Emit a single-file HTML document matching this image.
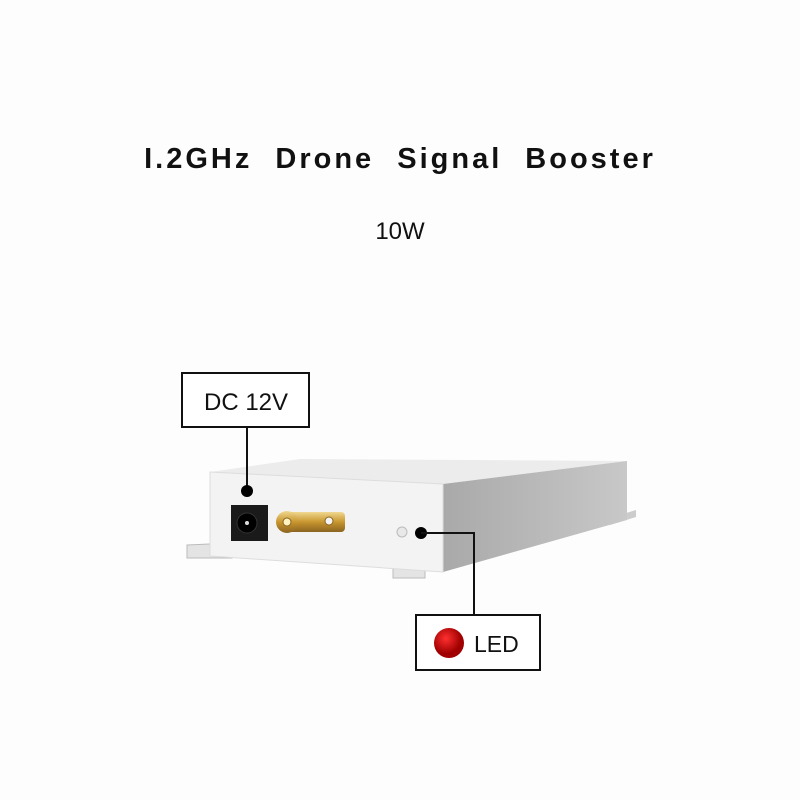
<!DOCTYPE html>
<html><head><style>
body{margin:0;width:800px;height:800px;background:#fdfdfd;overflow:hidden;position:relative;font-family:"Liberation Sans",sans-serif}
.t{position:absolute;left:0;width:800px;text-align:center}
</style></head><body>
<div class="t" style="top:143px;font-size:29px;font-weight:bold;letter-spacing:3px;word-spacing:12px;color:#111">I.2GHz Drone Signal Booster</div>
<div class="t" style="top:218px;font-size:24px;color:#111">10W</div>
<svg width="800" height="800" style="position:absolute;left:0;top:0">
<defs>
<linearGradient id="side" x1="0" x2="1"><stop offset="0" stop-color="#a9a9a9"/><stop offset="1" stop-color="#c8c8c8"/></linearGradient>
<radialGradient id="red" cx="0.4" cy="0.35"><stop offset="0" stop-color="#ff3030"/><stop offset="1" stop-color="#a00000"/></radialGradient>
<linearGradient id="gold" x1="0" x2="0" y1="0" y2="1"><stop offset="0" stop-color="#f0d890"/><stop offset="0.5" stop-color="#c8962e"/><stop offset="1" stop-color="#8a6420"/></linearGradient>
</defs>
<polygon points="187,545 232,543 232,558 187,558" fill="#e4e4e4" stroke="#bbb"/>
<polygon points="393,562 425,560 425,578 393,578" fill="#e4e4e4" stroke="#bbb"/>
<polygon points="610,518 636,510 636,517 610,525" fill="#ccc"/>
<polygon points="210,472 300,459 627,461 443,484" fill="#ececec"/>
<polygon points="443,484 627,461 627,520 443,572" fill="url(#side)"/>
<polygon points="210,472 443,484 443,572 210,556" fill="#f3f3f3" stroke="#ddd"/>
<rect x="231" y="505" width="37" height="36" fill="#1a1a1a"/>
<circle cx="247" cy="523" r="10" fill="#000" stroke="#333"/>
<circle cx="247" cy="523" r="2" fill="#ddd"/>
<rect x="285" y="512" width="60" height="20" rx="4" fill="url(#gold)"/>
<circle cx="287" cy="522" r="11" fill="url(#gold)"/>
<circle cx="287" cy="522" r="4" fill="#fff3c0" stroke="#8a6420"/>
<circle cx="329" cy="521" r="4" fill="#f4f4f4" stroke="#8a6420"/>
<circle cx="402" cy="532" r="5" fill="#e8e8e8" stroke="#bbb"/>
<rect x="182" y="373" width="127" height="54" fill="#fff" stroke="#111" stroke-width="2"/>
<line x1="247" y1="427" x2="247" y2="491" stroke="#111" stroke-width="2"/>
<circle cx="247" cy="491" r="6" fill="#000"/>
<circle cx="421" cy="533" r="6" fill="#000"/>
<polyline points="421,533 474,533 474,615" fill="none" stroke="#111" stroke-width="2"/>
<rect x="416" y="615" width="124" height="55" fill="#fff" stroke="#111" stroke-width="2"/>
<circle cx="449" cy="643" r="15" fill="url(#red)"/>
<text x="204" y="410" font-size="24" fill="#111" font-family="Liberation Sans">DC 12V</text>
<text x="474" y="652" font-size="23" fill="#111" font-family="Liberation Sans">LED</text>
</svg>
</body></html>
